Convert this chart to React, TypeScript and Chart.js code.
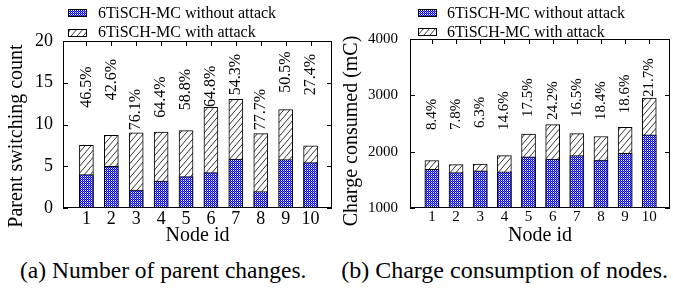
import React, { useEffect, useRef } from 'react';
import { Chart, registerables } from 'chart.js';

Chart.register(...registerables);

const nodeIds = [1, 2, 3, 4, 5, 6, 7, 8, 9, 10];
const seriesLabels = ['6TiSCH-MC without attack', '6TiSCH-MC with attack'];

const parentWithout = [4.0, 5.0, 2.15, 3.23, 3.75, 4.23, 5.87, 1.98, 5.79, 5.43];
const parentWith = [7.5, 8.7, 9.0, 9.1, 9.26, 12.06, 13.0, 8.9, 11.78, 7.46];
const parentPct = ['46.5%', '42.6%', '76.1%', '64.4%', '58.8%', '64.8%', '54.3%', '77.7%', '50.5%', '27.4%'];
const parentPctY = [12.0, 12.9, 9.3, 10.8, 11.7, 12.1, 13.5, 9.3, 13.8, 13.5];
const parentTicks = [0, 5, 10, 15, 20];

const chargeWithout = [1685, 1630, 1660, 1640, 1910, 1870, 1930, 1850, 1970, 2300];
const chargeWith = [1840, 1770, 1780, 1930, 2310, 2480, 2320, 2270, 2430, 2950];
const chargePct = ['8.4%', '7.8%', '6.3%', '14.6%', '17.5%', '24.2%', '16.5%', '18.4%', '18.6%', '21.7%'];
const chargePctY = [2383, 2383, 2420, 2383, 2614, 2560, 2614, 2560, 2680, 2970];
const chargeTicks = [1000, 2000, 3000, 4000];

const SERIF = '"Liberation Serif", "Times New Roman", serif';

function makeBluePattern(): CanvasPattern | string {
  const c = document.createElement('canvas');
  c.width = 2;
  c.height = 2;
  const g = c.getContext('2d');
  if (!g) return '#5050ff';
  g.fillStyle = '#0000ff';
  g.fillRect(0, 0, 2, 2);
  g.fillStyle = '#ffffff';
  g.fillRect(1, 0, 1, 1);
  g.fillStyle = '#6a6aff';
  g.fillRect(0, 1, 1, 1);
  const p = g.createPattern(c, 'repeat');
  return p || '#5050ff';
}

function makeHatchPattern(): CanvasPattern | string {
  const w = 6;
  const h = 7;
  const c = document.createElement('canvas');
  c.width = w;
  c.height = h;
  const g = c.getContext('2d');
  if (!g) return '#ffffff';
  g.fillStyle = '#ffffff';
  g.fillRect(0, 0, w, h);
  g.strokeStyle = '#000000';
  g.lineWidth = 0.8;
  for (let k = -1; k <= 1; k++) {
    g.beginPath();
    g.moveTo(k * w, h);
    g.lineTo(k * w + w, 0);
    g.stroke();
  }
  const p = g.createPattern(c, 'repeat');
  return p || '#ffffff';
}

interface PanelCfg {
  without: number[];
  withA: number[];
  pct: string[];
  pctY: number[];
  ticks: number[];
  yMin: number;
  yMax: number;
  yStep: number;
  yTitle: string;
  yTitleX: number;
  yTitleY: number;
  yAxisWidth: number;
  padTop: number;
  padRight: number;
  xMin: number;
  xMax: number;
  tickFont: number;
  tickPadY: number;
  pctFont: number;
  legendX: number;
  legendTextX: number;
  legendY: number[];
}

function framePlugin(cfg: PanelCfg) {
  return {
    id: 'frame',
    beforeDatasetsDraw(chart: any) {
      const { ctx, chartArea: a, scales } = chart;
      const xs = scales.x;
      const ys = scales.y;
      ctx.save();
      ctx.strokeStyle = '#000';
      ctx.lineWidth = 1;
      ctx.beginPath();
      const tl = 5;
      for (const v of cfg.ticks) {
        const y = Math.round(ys.getPixelForValue(v)) + 0.5;
        ctx.moveTo(a.left, y);
        ctx.lineTo(a.left + tl, y);
        ctx.moveTo(a.right, y);
        ctx.lineTo(a.right - tl, y);
      }
      for (const v of nodeIds) {
        const x = Math.round(xs.getPixelForValue(v)) + 0.5;
        ctx.moveTo(x, a.top);
        ctx.lineTo(x, a.top + tl);
        ctx.moveTo(x, a.bottom);
        ctx.lineTo(x, a.bottom - tl);
      }
      ctx.stroke();
      ctx.restore();
    },
    afterDraw(chart: any) {
      const { ctx, chartArea: a, scales } = chart;
      const xs = scales.x;
      const ys = scales.y;
      ctx.save();
      ctx.strokeStyle = '#000';
      ctx.lineWidth = 1;
      ctx.strokeRect(a.left + 0.5, a.top + 0.5, a.right - a.left - 1, a.bottom - a.top - 1);

      // percentage labels
      ctx.fillStyle = '#000';
      ctx.font = `${cfg.pctFont}px ${SERIF}`;
      ctx.textAlign = 'left';
      ctx.textBaseline = 'middle';
      cfg.pct.forEach((t, i) => {
        const x = xs.getPixelForValue(nodeIds[i]);
        const y = ys.getPixelForValue(cfg.pctY[i]);
        ctx.save();
        ctx.translate(x, y);
        ctx.rotate(-Math.PI / 2);
        ctx.fillText(t, 0, 0);
        ctx.restore();
      });

      // y-axis title
      ctx.save();
      ctx.font = `20px ${SERIF}`;
      ctx.textAlign = 'center';
      ctx.textBaseline = 'middle';
      ctx.translate(cfg.yTitleX, cfg.yTitleY);
      ctx.rotate(-Math.PI / 2);
      ctx.fillText(cfg.yTitle, 0, 0);
      ctx.restore();

      // legend
      ctx.font = `16px ${SERIF}`;
      ctx.textAlign = 'left';
      ctx.textBaseline = 'middle';
      chart.data.datasets.forEach((ds: any, j: number) => {
        const cy = cfg.legendY[j];
        const top = Math.round(cy - 3.5);
        ctx.fillStyle = ds.backgroundColor;
        ctx.fillRect(cfg.legendX, top, 19, 7);
        ctx.strokeStyle = '#000';
        ctx.strokeRect(cfg.legendX + 0.5, top + 0.5, 18, 7);
        ctx.fillStyle = '#000';
        ctx.fillText(ds.label, cfg.legendTextX, cy + 1);
      });
      ctx.restore();
    },
  };
}

function buildChart(canvas: HTMLCanvasElement, cfg: PanelCfg) {
  const blue = makeBluePattern();
  const hatch = makeHatchPattern();
  return new Chart(canvas, {
    type: 'bar',
    data: {
      datasets: [
        {
          label: seriesLabels[0],
          data: nodeIds.map((x, i) => ({ x, y: cfg.without[i] })),
          backgroundColor: blue as any,
          borderColor: '#000',
          borderWidth: 1,
          borderSkipped: false,
          barThickness: 14,
          grouped: false,
        },
        {
          label: seriesLabels[1],
          data: nodeIds.map((x, i) => ({ x, y: cfg.withA[i] })),
          backgroundColor: hatch as any,
          borderColor: '#000',
          borderWidth: 1,
          borderSkipped: false,
          barThickness: 14,
          grouped: false,
        },
      ],
    },
    options: {
      animation: false,
      responsive: false,
      devicePixelRatio: 1,
      layout: { padding: { top: cfg.padTop, right: cfg.padRight, left: 0, bottom: 0 } },
      plugins: {
        legend: { display: false },
        tooltip: { enabled: false },
      },
      scales: {
        x: {
          type: 'linear',
          min: cfg.xMin,
          max: cfg.xMax,
          grid: { display: false, drawTicks: false },
          border: { display: false },
          ticks: {
            stepSize: 1,
            includeBounds: false,
            autoSkip: false,
            maxRotation: 0,
            padding: 0,
            color: '#000',
            font: { family: SERIF, size: cfg.tickFont },
          },
          title: {
            display: true,
            text: 'Node id',
            color: '#000',
            font: { family: SERIF, size: 20 },
            padding: { top: 0, bottom: 2 },
          },
          afterFit: (s: any) => {
            s.height = 42;
          },
        },
        y: {
          min: cfg.yMin,
          max: cfg.yMax,
          grid: { display: false, drawTicks: false },
          border: { display: false },
          ticks: {
            stepSize: cfg.yStep,
            padding: cfg.tickPadY,
            color: '#000',
            font: { family: SERIF, size: cfg.tickFont },
            callback: (v: any) => String(v),
          },
          afterFit: (s: any) => {
            s.width = cfg.yAxisWidth;
          },
        },
      } as any,
    },
    plugins: [framePlugin(cfg) as any],
  });
}

const leftCfg: PanelCfg = {
  without: parentWithout,
  withA: parentWith,
  pct: parentPct,
  pctY: parentPctY,
  ticks: parentTicks,
  yMin: 0,
  yMax: 20,
  yStep: 5,
  yTitle: 'Parent switching count',
  yTitleX: 17,
  yTitleY: 136,
  yAxisWidth: 63,
  padTop: 41,
  padRight: 8,
  xMin: 0.6,
  xMax: 10.32,
  tickFont: 18,
  tickPadY: 10,
  pctFont: 16,
  legendX: 68,
  legendTextX: 98,
  legendY: [12.5, 32],
};

const rightCfg: PanelCfg = {
  without: chargeWithout,
  withA: chargeWith,
  pct: chargePct,
  pctY: chargePctY,
  ticks: chargeTicks,
  yMin: 1000,
  yMax: 4000,
  yStep: 1000,
  yTitle: 'Charge consumed (mC)',
  yTitleX: 12,
  yTitleY: 131,
  yAxisWidth: 70,
  padTop: 39,
  padRight: 3,
  xMin: 0.63,
  xMax: 10.32,
  tickFont: 15,
  tickPadY: 12,
  pctFont: 15,
  legendX: 78,
  legendTextX: 107,
  legendY: [12.5, 31.5],
};

function Panel({ cfg, left, width }: { cfg: PanelCfg; left: number; width: number }) {
  const ref = useRef<HTMLCanvasElement | null>(null);
  useEffect(() => {
    if (!ref.current) return;
    const ch = buildChart(ref.current, cfg);
    return () => ch.destroy();
  }, [cfg]);
  return (
    <canvas
      ref={ref}
      width={width}
      height={250}
      style={{ position: 'absolute', left, top: 0, width, height: 250 }}
    />
  );
}

export default function App() {
  const cap: React.CSSProperties = {
    position: 'absolute',
    top: 255,
    fontFamily: SERIF,
    fontSize: 24,
    lineHeight: '30px',
    color: '#000',
    whiteSpace: 'nowrap',
  };
  return (
    <div
      style={{
        position: 'fixed',
        left: 0,
        top: 0,
        width: 673,
        height: 288,
        background: '#fff',
        overflow: 'hidden',
      }}
    >
      <Panel cfg={leftCfg} left={0} width={340} />
      <Panel cfg={rightCfg} left={340} width={333} />
      <div style={{ ...cap, left: 20, fontSize: 23.5 }}>(a) Number of parent changes.</div>
      <div style={{ ...cap, right: 5, textAlign: 'right' }}>(b) Charge consumption of nodes.</div>
    </div>
  );
}
